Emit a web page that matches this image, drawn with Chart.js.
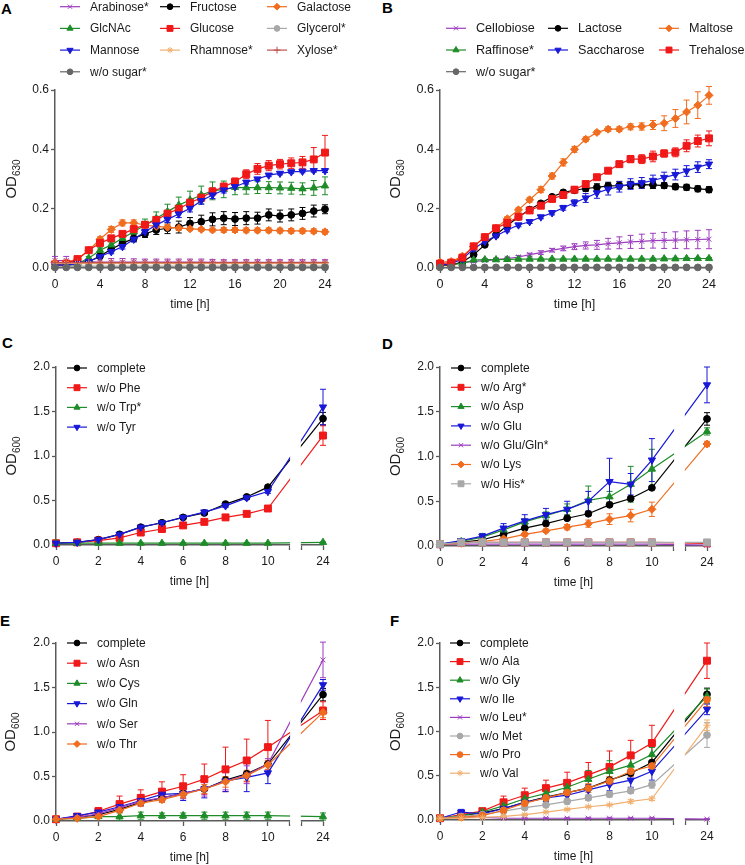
<!DOCTYPE html>
<html>
<head>
<meta charset="utf-8">
<script src="https://cdn.jsdelivr.net/npm/chart.js@4.4.1/dist/chart.umd.min.js"></script>
<style>
  body { margin: 0; background: #fff; width: 745px; height: 865px; position: relative; overflow: hidden; }
  canvas { position: absolute; }
  .tag { position: absolute; font: bold 15px "Liberation Sans", Arial, sans-serif; color: #000; }
</style>
</head>
<body>
<div class="tag" style="left:1px;top:0px">A</div>
<div class="tag" style="left:382px;top:-1px">B</div>
<div class="tag" style="left:2px;top:334px">C</div>
<div class="tag" style="left:382px;top:335px">D</div>
<div class="tag" style="left:0px;top:612px">E</div>
<div class="tag" style="left:390px;top:612px">F</div>

<canvas id="chartA" width="372" height="314" style="left:0;top:0"></canvas>
<canvas id="chartB" width="373" height="314" style="left:372px;top:0"></canvas>
<canvas id="chartC" width="372" height="282" style="left:0;top:310px"></canvas>
<canvas id="chartD" width="373" height="282" style="left:372px;top:310px"></canvas>
<canvas id="chartE" width="372" height="275" style="left:0;top:590px"></canvas>
<canvas id="chartF" width="373" height="275" style="left:372px;top:590px"></canvas>

<script>
// ---- time points ----
const hoursAB = [0,1,2,3,4,5,6,7,8,9,10,11,12,13,14,15,16,17,18,19,20,21,22,23,24];
const hoursAA = [0,1,2,3,4,5,6,7,8,9,10,24];

// ---- A: sugars (OD630), mean and SD ----
const aArabinose   = [0.025,0.025,0.022,0.021,0.020,0.020,0.020,0.020,0.020,0.020,0.020,0.020,0.020,0.020,0.019,0.019,0.019,0.019,0.019,0.019,0.019,0.019,0.019,0.019,0.019];
const aArabinoseSd = [0.014,0.014,0.012,0.012,0.012,0.012,0.012,0.011,0.010,0.010,0.010,0.010,0.010,0.010,0.010,0.009,0.009,0.009,0.009,0.009,0.009,0.009,0.009,0.009,0.009];
const aFructose    = [0.010,0.010,0.012,0.021,0.040,0.063,0.083,0.100,0.115,0.128,0.134,0.138,0.150,0.156,0.164,0.168,0.165,0.168,0.168,0.179,0.175,0.179,0.184,0.192,0.198];
const aFructoseSd  = [0.004,0.004,0.004,0.005,0.006,0.008,0.010,0.012,0.012,0.015,0.018,0.020,0.020,0.022,0.022,0.022,0.022,0.022,0.020,0.020,0.020,0.020,0.020,0.020,0.015];
const aGalactose   = [0.018,0.018,0.030,0.060,0.097,0.130,0.152,0.152,0.145,0.140,0.137,0.135,0.132,0.130,0.128,0.128,0.128,0.127,0.127,0.127,0.126,0.125,0.125,0.124,0.122];
const aGalactoseSd = [0.004,0.004,0.004,0.005,0.008,0.010,0.010,0.010,0.010,0.010,0.010,0.008,0.006,0.006,0.006,0.008,0.008,0.008,0.008,0.008,0.008,0.008,0.008,0.008,0.008];
const aGlcNAc      = [0.010,0.010,0.015,0.033,0.060,0.078,0.100,0.122,0.145,0.167,0.190,0.212,0.229,0.246,0.260,0.265,0.272,0.271,0.271,0.271,0.270,0.269,0.267,0.270,0.277];
const aGlcNAcSd    = [0.004,0.004,0.004,0.006,0.008,0.010,0.012,0.015,0.020,0.022,0.025,0.027,0.030,0.030,0.030,0.028,0.025,0.022,0.020,0.020,0.020,0.020,0.020,0.025,0.030];
const aGlucose     = [0.012,0.015,0.030,0.060,0.084,0.100,0.115,0.131,0.146,0.162,0.183,0.200,0.220,0.237,0.258,0.274,0.291,0.316,0.334,0.345,0.350,0.353,0.356,0.366,0.389];
const aGlucoseSd   = [0.005,0.005,0.005,0.005,0.005,0.006,0.007,0.008,0.010,0.012,0.012,0.012,0.012,0.012,0.012,0.012,0.012,0.015,0.018,0.017,0.016,0.018,0.020,0.040,0.058];
const aGlycerol    = [0.006,0.006,0.006,0.006,0.006,0.006,0.006,0.006,0.006,0.006,0.006,0.006,0.006,0.006,0.006,0.006,0.006,0.006,0.006,0.006,0.006,0.006,0.006,0.006,0.006];
const aGlycerolSd  = [0.003,0.003,0.003,0.003,0.003,0.003,0.003,0.003,0.003,0.003,0.003,0.003,0.003,0.003,0.003,0.003,0.003,0.003,0.003,0.003,0.003,0.003,0.003,0.003,0.003];
const aMannose     = [0.010,0.010,0.015,0.022,0.038,0.055,0.072,0.097,0.122,0.145,0.164,0.182,0.201,0.227,0.246,0.263,0.274,0.289,0.300,0.313,0.319,0.324,0.326,0.328,0.328];
const aMannoseSd   = [0.004,0.004,0.004,0.005,0.006,0.007,0.008,0.008,0.008,0.010,0.010,0.012,0.012,0.012,0.012,0.010,0.008,0.006,0.005,0.005,0.005,0.005,0.005,0.005,0.006];
const aRhamnose    = [0.016,0.016,0.015,0.015,0.015,0.015,0.015,0.015,0.015,0.015,0.015,0.015,0.015,0.015,0.015,0.015,0.015,0.015,0.015,0.015,0.015,0.015,0.015,0.015,0.015];
const aRhamnoseSd  = [0.004,0.004,0.004,0.004,0.004,0.004,0.004,0.004,0.004,0.004,0.004,0.004,0.004,0.004,0.004,0.004,0.004,0.004,0.004,0.004,0.004,0.004,0.004,0.004,0.004];
const aXylose      = [0.018,0.018,0.018,0.018,0.018,0.018,0.018,0.018,0.018,0.018,0.018,0.018,0.018,0.018,0.018,0.018,0.018,0.018,0.018,0.018,0.018,0.018,0.018,0.018,0.018];
const aXyloseSd    = [0.005,0.005,0.005,0.005,0.005,0.005,0.005,0.005,0.005,0.005,0.005,0.005,0.005,0.005,0.005,0.005,0.005,0.005,0.005,0.005,0.005,0.005,0.005,0.005,0.005];
const aNoSugar     = [0.002,0.002,0.002,0.002,0.002,0.002,0.002,0.002,0.002,0.002,0.002,0.002,0.002,0.002,0.002,0.002,0.002,0.002,0.002,0.002,0.002,0.002,0.002,0.002,0.002];
const aNoSugarSd   = [0.002,0.002,0.002,0.002,0.002,0.002,0.002,0.002,0.002,0.002,0.002,0.002,0.002,0.002,0.002,0.002,0.002,0.002,0.002,0.002,0.002,0.002,0.002,0.002,0.002];

// ---- B: di-/trisaccharides (OD630) ----
const bCellobiose    = [0.010,0.012,0.018,0.022,0.025,0.028,0.032,0.037,0.045,0.052,0.060,0.066,0.072,0.076,0.078,0.082,0.085,0.088,0.090,0.092,0.093,0.094,0.095,0.096,0.097];
const bCellobioseSd  = [0.003,0.003,0.003,0.003,0.003,0.004,0.004,0.005,0.005,0.006,0.006,0.008,0.010,0.012,0.015,0.018,0.020,0.022,0.024,0.025,0.027,0.028,0.030,0.031,0.032];
const bLactose       = [0.010,0.010,0.020,0.045,0.078,0.112,0.143,0.172,0.197,0.218,0.240,0.255,0.262,0.268,0.272,0.277,0.278,0.280,0.281,0.280,0.278,0.274,0.272,0.267,0.264];
const bLactoseSd     = [0.003,0.003,0.004,0.005,0.006,0.006,0.006,0.006,0.006,0.006,0.006,0.007,0.008,0.010,0.012,0.012,0.012,0.012,0.012,0.012,0.010,0.010,0.010,0.010,0.010];
const bMaltose       = [0.020,0.022,0.040,0.073,0.104,0.134,0.166,0.196,0.230,0.264,0.310,0.356,0.400,0.434,0.457,0.468,0.468,0.476,0.477,0.482,0.488,0.504,0.526,0.549,0.582];
const bMaltoseSd     = [0.004,0.004,0.005,0.006,0.006,0.006,0.007,0.007,0.008,0.010,0.010,0.012,0.010,0.008,0.006,0.008,0.008,0.010,0.012,0.015,0.025,0.030,0.040,0.045,0.030];
const bRaffinose     = [0.010,0.012,0.015,0.027,0.028,0.028,0.029,0.030,0.030,0.030,0.030,0.030,0.030,0.030,0.030,0.030,0.030,0.030,0.030,0.030,0.031,0.031,0.032,0.032,0.032];
const bRaffinoseSd   = [0.003,0.003,0.003,0.003,0.003,0.003,0.003,0.003,0.003,0.003,0.003,0.003,0.003,0.003,0.003,0.003,0.003,0.003,0.003,0.003,0.003,0.003,0.003,0.003,0.003];
const bSaccharose    = [0.010,0.015,0.030,0.065,0.089,0.108,0.128,0.145,0.156,0.172,0.186,0.203,0.220,0.236,0.253,0.266,0.274,0.283,0.287,0.295,0.305,0.315,0.327,0.340,0.350];
const bSaccharoseSd  = [0.003,0.003,0.004,0.005,0.006,0.006,0.006,0.006,0.006,0.006,0.007,0.008,0.010,0.015,0.018,0.020,0.018,0.018,0.018,0.018,0.018,0.018,0.018,0.018,0.015];
const bTrehalose     = [0.015,0.018,0.035,0.073,0.104,0.134,0.152,0.173,0.194,0.210,0.233,0.246,0.264,0.283,0.306,0.328,0.350,0.367,0.367,0.376,0.386,0.390,0.412,0.428,0.437];
const bTrehaloseSd   = [0.004,0.004,0.004,0.005,0.006,0.006,0.006,0.007,0.008,0.008,0.010,0.010,0.008,0.008,0.008,0.008,0.010,0.012,0.015,0.018,0.012,0.015,0.020,0.020,0.025];
const bNoSugar       = [0.002,0.002,0.002,0.002,0.002,0.002,0.002,0.002,0.002,0.002,0.002,0.002,0.002,0.002,0.002,0.002,0.002,0.002,0.002,0.002,0.002,0.002,0.002,0.002,0.002];
const bNoSugarSd     = [0.001,0.001,0.001,0.001,0.001,0.001,0.001,0.001,0.001,0.001,0.001,0.001,0.001,0.001,0.001,0.001,0.001,0.001,0.001,0.001,0.001,0.001,0.001,0.001,0.001];

// ---- C: aromatic amino acids (OD600) ----
const cComplete   = [0.02,0.03,0.06,0.12,0.20,0.25,0.31,0.36,0.46,0.54,0.65,1.42];
const cCompleteSd = [0.005,0.005,0.01,0.01,0.015,0.015,0.015,0.02,0.02,0.02,0.02,0.07];
const cPhe        = [0.02,0.03,0.05,0.08,0.14,0.18,0.22,0.26,0.31,0.35,0.41,1.23];
const cPheSd      = [0.005,0.005,0.005,0.01,0.01,0.01,0.01,0.01,0.015,0.015,0.02,0.11];
const cTrp        = [0.02,0.02,0.02,0.02,0.02,0.02,0.02,0.02,0.02,0.02,0.02,0.03];
const cTrpSd      = [0.005,0.005,0.005,0.005,0.005,0.005,0.005,0.005,0.005,0.005,0.005,0.005];
const cTyr        = [0.02,0.03,0.06,0.12,0.20,0.25,0.31,0.37,0.44,0.53,0.60,1.55];
const cTyrSd      = [0.005,0.005,0.01,0.01,0.015,0.015,0.015,0.02,0.02,0.02,0.02,0.20];

// ---- D ----
const dComplete   = [0.02,0.04,0.07,0.13,0.20,0.25,0.31,0.36,0.46,0.53,0.65,1.42];
const dCompleteSd = [0.005,0.005,0.01,0.01,0.015,0.015,0.015,0.02,0.02,0.02,0.02,0.07];
const dArg        = [0.02,0.04,0.04,0.04,0.04,0.04,0.04,0.04,0.04,0.04,0.04,0.03];
const dArgSd      = [0.005,0.005,0.005,0.005,0.005,0.005,0.005,0.005,0.005,0.005,0.005,0.005];
const dAsp        = [0.02,0.05,0.10,0.18,0.27,0.34,0.41,0.51,0.55,0.69,0.86,1.28];
const dAspSd      = [0.005,0.01,0.02,0.03,0.03,0.04,0.06,0.16,0.06,0.20,0.22,0.04];
const dGlu        = [0.02,0.06,0.11,0.20,0.28,0.35,0.41,0.50,0.72,0.69,0.96,1.80];
const dGluSd      = [0.005,0.01,0.03,0.05,0.07,0.07,0.09,0.11,0.26,0.12,0.24,0.20];
const dGluGln     = [0.02,0.02,0.02,0.02,0.02,0.02,0.02,0.02,0.02,0.02,0.02,0.01];
const dGluGlnSd   = [0.005,0.005,0.005,0.005,0.005,0.005,0.005,0.005,0.005,0.005,0.005,0.005];
const dLys        = [0.02,0.03,0.05,0.08,0.13,0.17,0.21,0.25,0.30,0.34,0.41,1.14];
const dLysSd      = [0.005,0.005,0.01,0.02,0.02,0.02,0.03,0.04,0.06,0.07,0.08,0.03];
const dHis        = [0.02,0.04,0.04,0.04,0.04,0.04,0.04,0.04,0.04,0.04,0.04,0.04];
const dHisSd      = [0.005,0.005,0.005,0.005,0.005,0.005,0.005,0.005,0.005,0.005,0.005,0.005];

// ---- E ----
const eComplete   = [0.02,0.04,0.07,0.13,0.21,0.26,0.31,0.36,0.46,0.53,0.64,1.42];
const eCompleteSd = [0.005,0.005,0.01,0.01,0.015,0.015,0.015,0.02,0.02,0.02,0.02,0.07];
const eAsn        = [0.02,0.05,0.11,0.19,0.26,0.33,0.39,0.47,0.58,0.68,0.83,1.24];
const eAsnSd      = [0.005,0.02,0.04,0.09,0.09,0.11,0.13,0.17,0.25,0.24,0.30,0.10];
const eCys        = [0.02,0.03,0.05,0.05,0.06,0.06,0.06,0.06,0.06,0.06,0.06,0.05];
const eCysSd      = [0.005,0.01,0.02,0.04,0.04,0.03,0.03,0.04,0.04,0.04,0.04,0.04];
const eGln        = [0.02,0.06,0.10,0.16,0.23,0.30,0.31,0.36,0.45,0.49,0.54,1.53];
const eGlnSd      = [0.005,0.01,0.03,0.04,0.06,0.06,0.08,0.10,0.12,0.16,0.12,0.06];
const eSer        = [0.02,0.04,0.08,0.15,0.22,0.26,0.31,0.36,0.45,0.52,0.64,1.81];
const eSerSd      = [0.005,0.01,0.02,0.03,0.04,0.05,0.06,0.08,0.10,0.10,0.06,0.20];
const eThr        = [0.02,0.03,0.05,0.12,0.20,0.24,0.30,0.36,0.44,0.51,0.63,1.22];
const eThrSd      = [0.005,0.005,0.01,0.02,0.03,0.03,0.04,0.05,0.06,0.06,0.05,0.06];

// ---- F ----
const fComplete   = [0.02,0.05,0.08,0.13,0.20,0.26,0.31,0.36,0.45,0.53,0.65,1.42];
const fCompleteSd = [0.005,0.005,0.01,0.01,0.015,0.015,0.015,0.02,0.02,0.02,0.02,0.07];
const fAla        = [0.02,0.06,0.10,0.20,0.28,0.36,0.42,0.51,0.60,0.73,0.87,1.80];
const fAlaSd      = [0.005,0.02,0.03,0.07,0.08,0.09,0.12,0.14,0.18,0.17,0.20,0.20];
const fGly        = [0.02,0.05,0.09,0.16,0.24,0.30,0.37,0.46,0.55,0.62,0.74,1.40];
const fGlySd      = [0.005,0.01,0.02,0.04,0.05,0.06,0.08,0.10,0.12,0.10,0.08,0.08];
const fIle        = [0.02,0.09,0.07,0.13,0.20,0.25,0.28,0.34,0.40,0.45,0.55,1.25];
const fIleSd      = [0.005,0.03,0.02,0.03,0.03,0.04,0.05,0.06,0.07,0.08,0.10,0.06];
const fLeu        = [0.02,0.03,0.03,0.02,0.02,0.02,0.02,0.02,0.02,0.02,0.02,0.01];
const fLeuSd      = [0.005,0.005,0.005,0.005,0.005,0.005,0.005,0.005,0.005,0.005,0.005,0.005];
const fMet        = [0.02,0.04,0.06,0.10,0.14,0.17,0.21,0.25,0.29,0.33,0.40,0.96];
const fMetSd      = [0.005,0.005,0.01,0.01,0.02,0.02,0.03,0.03,0.03,0.03,0.04,0.14];
const fPro        = [0.02,0.03,0.05,0.11,0.19,0.25,0.31,0.36,0.44,0.55,0.61,1.36];
const fProSd      = [0.005,0.005,0.01,0.02,0.03,0.03,0.04,0.05,0.05,0.06,0.06,0.08];
const fVal        = [0.02,0.02,0.03,0.04,0.06,0.09,0.12,0.15,0.17,0.21,0.24,1.07];
const fValSd      = [0.005,0.005,0.005,0.01,0.01,0.01,0.01,0.01,0.01,0.02,0.02,0.06];

// ---- colours / markers ----
const BLACK = '#000000', RED = '#f01818', GREEN = '#1e8c28', BLUE = '#1818d8', PURPLE = '#9c3cbe',
      ORANGE = '#f06c1e', LGRAY = '#a8a8a8', TAN = '#f0b070', BRICK = '#c0504d', DGRAY = '#666666';
const AXIS = '#5a5a5a', TXT = '#1a1a1a';
const FONT = '"Liberation Sans", Arial, sans-serif';

const CIRCLE = { shape: 'circle', r: 3.4 }, SQUARE = { shape: 'rect', r: 4.9 },
      UP = { shape: 'triangle', r: 4.2 }, DOWN = { shape: 'triangle', r: 4.2, rot: 180 },
      XMARK = { shape: 'crossRot', r: 3.5 }, DIAMOND = { shape: 'rectRot', r: 4 },
      STAR = { shape: 'star', r: 3.6 }, PLUS = { shape: 'cross', r: 4 };

// broken x axis (C-F): 0..11 kept, 24 h placed just past the gap
const BREAK_FROM = 11, BREAK_TO = 11.6, POS_24 = 12.6;
const brokenX = t => (t > BREAK_FROM ? t - 24 + POS_24 : t);
const plainX = t => t;

function series(label, color, mk, values, errors, hours, xMap) {
  return {
    label: label,
    data: values.map((v, i) => ({ x: xMap(hours[i]), y: v })),
    errors: errors,
    borderColor: color, backgroundColor: color,
    pointBackgroundColor: color, pointBorderColor: color,
    pointStyle: mk.shape, pointRadius: mk.r, pointRotation: mk.rot || 0,
    pointBorderWidth: 1, borderWidth: 1.2, tension: 0, clip: false
  };
}

// later series are painted on top, like the original figure
function stack(list) {
  list.forEach((ds, i) => { ds.order = -i; });
  return list;
}

// error bars drawn through the chart scales
const errorBars = {
  id: 'errorBars',
  beforeDatasetsDraw(chart) {
    const { ctx, scales: { x, y } } = chart;
    chart.data.datasets.forEach(ds => {
      if (!ds.errors) return;
      ctx.save();
      ctx.strokeStyle = ds.borderColor;
      ctx.lineWidth = 1;
      ds.data.forEach((p, j) => {
        const e = ds.errors[j];
        if (!e) return;
        const px = x.getPixelForValue(p.x);
        const t = y.getPixelForValue(p.y + e), b = y.getPixelForValue(p.y - e);
        ctx.beginPath();
        ctx.moveTo(px, t); ctx.lineTo(px, b);
        ctx.moveTo(px - 3, t); ctx.lineTo(px + 3, t);
        ctx.moveTo(px - 3, b); ctx.lineTo(px + 3, b);
        ctx.stroke();
      });
      ctx.restore();
    });
  }
};

// white gap over the axis break
const brokenAxis = {
  id: 'brokenAxis',
  afterDatasetsDraw(chart) {
    const { ctx, chartArea, scales: { x } } = chart;
    const x1 = x.getPixelForValue(BREAK_FROM) + 1, x2 = x.getPixelForValue(BREAK_TO) - 1;
    ctx.save();
    ctx.fillStyle = '#ffffff';
    ctx.fillRect(x1, chartArea.top, x2 - x1, chartArea.bottom - chartArea.top + 3);
    ctx.restore();
  }
};

// Prism-like legend, row-major in columns
const legendBox = {
  id: 'legendBox',
  afterDraw(chart, args, opts) {
    const ctx = chart.ctx;
    ctx.save();
    ctx.font = opts.size + 'px ' + FONT;
    ctx.textBaseline = 'middle';
    ctx.textAlign = 'left';
    chart.data.datasets.forEach((ds, i) => {
      const col = i % opts.cols.length, row = Math.floor(i / opts.cols.length);
      const tx = opts.cols[col], ty = opts.top + row * opts.gap;
      ctx.strokeStyle = ds.borderColor;
      ctx.fillStyle = ds.borderColor;
      ctx.lineWidth = 1.2;
      ctx.beginPath(); ctx.moveTo(tx - 30, ty); ctx.lineTo(tx - 10, ty); ctx.stroke();
      ctx.lineWidth = 1;
      Chart.helpers.drawPoint(ctx, { pointStyle: ds.pointStyle, radius: ds.pointRadius * 0.85,
        rotation: ds.pointRotation, borderWidth: 1 }, tx - 20, ty);
      ctx.fillStyle = TXT;
      ctx.fillText(ds.label, tx, ty + 0.5);
    });
    ctx.restore();
  }
};

// axis titles (OD with subscript, time [h])
const axisTitles = {
  id: 'axisTitles',
  afterDraw(chart, args, opts) {
    const { ctx, chartArea: ca } = chart;
    ctx.save();
    ctx.fillStyle = TXT;
    ctx.textBaseline = 'alphabetic';
    ctx.font = opts.size + 'px ' + FONT;
    ctx.textAlign = 'center';
    ctx.fillText('time [h]', (ca.left + ca.right) / 2, ca.bottom + 40);
    ctx.translate(opts.yX, (ca.top + ca.bottom) / 2);
    ctx.rotate(-Math.PI / 2);
    ctx.textAlign = 'left';
    ctx.font = '15px ' + FONT;
    const w1 = ctx.measureText('OD').width;
    ctx.font = '10px ' + FONT;
    const w2 = ctx.measureText(opts.sub).width;
    const start = -(w1 + w2) / 2;
    ctx.font = '15px ' + FONT;
    ctx.fillText('OD', start, 0);
    ctx.font = '10px ' + FONT;
    ctx.fillText(opts.sub, start + w1, 4);
    ctx.restore();
  }
};

function makeChart(id, cfg) {
  const size = cfg.fontSize || 12;
  const axisGrid = { display: true, drawOnChartArea: false, drawTicks: true, color: AXIS, tickColor: AXIS, tickWidth: 1.3 };
  return new Chart(document.getElementById(id), {
    type: 'line',
    data: { datasets: stack(cfg.datasets) },
    options: {
      responsive: false, animation: false, events: [],
      layout: { padding: cfg.pad },
      scales: {
        x: {
          type: 'linear', min: 0, max: cfg.xMax,
          afterBuildTicks: s => { s.ticks = cfg.xTicks.map(v => ({ value: v })); },
          afterFit: s => { s.height = 40; s.paddingLeft = 0; s.paddingRight = 0; },
          grid: Object.assign({ tickLength: 5 }, axisGrid),
          border: { display: true, color: AXIS, width: 1.5 },
          ticks: { autoSkip: false, maxRotation: 0, padding: 4, color: TXT, font: { family: FONT, size: size },
                   callback: cfg.xLabel }
        },
        y: {
          type: 'linear', min: 0, max: cfg.yMax,
          afterBuildTicks: s => { s.ticks = cfg.yTicks.map(v => ({ value: v })); },
          afterFit: s => { s.width = 40; s.paddingTop = 0; s.paddingBottom = 0; },
          grid: Object.assign({ tickLength: 4 }, axisGrid),
          border: { display: true, color: AXIS, width: 1.5 },
          ticks: { padding: 2, color: TXT, font: { family: FONT, size: size }, callback: v => v.toFixed(1) }
        }
      },
      plugins: {
        legend: { display: false }, tooltip: { enabled: false },
        legendBox: Object.assign({ size: size }, cfg.legend),
        axisTitles: { sub: cfg.sub, yX: cfg.yX, size: size }
      }
    },
    plugins: cfg.broken ? [errorBars, brokenAxis, legendBox, axisTitles] : [errorBars, legendBox, axisTitles]
  });
}

const sugarX = { xMax: 24, xTicks: [0,4,8,12,16,20,24], xLabel: v => v,
                 yMax: 0.6, yTicks: [0,0.2,0.4,0.6], sub: '630' };
const aminoX = { xMax: POS_24, xTicks: [0,2,4,6,8,10,BREAK_FROM,BREAK_TO,POS_24],
                 xLabel: v => (v === POS_24 ? '24' : (v === BREAK_FROM || v === BREAK_TO ? '' : v)),
                 yMax: 2, yTicks: [0,0.5,1,1.5,2], sub: '600', broken: true };

const sA = (l, c, m, v, e) => series(l, c, m, v, e, hoursAB, plainX);
const sC = (l, c, m, v, e) => series(l, c, m, v, e, hoursAA, brokenX);

makeChart('chartA', Object.assign({}, sugarX, {
  pad: { left: 15, right: 47, top: 90, bottom: 6 }, yX: 16,
  legend: { cols: [90, 190, 297], top: 6.7, gap: 21.7 },
  datasets: [
    sA('Arabinose*', PURPLE, XMARK, aArabinose, aArabinoseSd),
    sA('Fructose', BLACK, CIRCLE, aFructose, aFructoseSd),
    sA('Galactose', ORANGE, DIAMOND, aGalactose, aGalactoseSd),
    sA('GlcNAc', GREEN, UP, aGlcNAc, aGlcNAcSd),
    sA('Glucose', RED, SQUARE, aGlucose, aGlucoseSd),
    sA('Glycerol*', LGRAY, CIRCLE, aGlycerol, aGlycerolSd),
    sA('Mannose', BLUE, DOWN, aMannose, aMannoseSd),
    sA('Rhamnose*', TAN, STAR, aRhamnose, aRhamnoseSd),
    sA('Xylose*', BRICK, PLUS, aXylose, aXyloseSd),
    sA('w/o sugar*', DGRAY, CIRCLE, aNoSugar, aNoSugarSd)
  ]
}));

makeChart('chartB', Object.assign({}, sugarX, {
  pad: { left: 28, right: 36, top: 90, bottom: 6 }, yX: 28, fontSize: 12.6,
  legend: { cols: [104, 206, 317], top: 28.3, gap: 21.7 },
  datasets: [
    sA('Cellobiose', PURPLE, XMARK, bCellobiose, bCellobioseSd),
    sA('Lactose', BLACK, CIRCLE, bLactose, bLactoseSd),
    sA('Maltose', ORANGE, DIAMOND, bMaltose, bMaltoseSd),
    sA('Raffinose*', GREEN, UP, bRaffinose, bRaffinoseSd),
    sA('Saccharose', BLUE, DOWN, bSaccharose, bSaccharoseSd),
    sA('Trehalose', RED, SQUARE, bTrehalose, bTrehaloseSd),
    sA('w/o sugar*', DGRAY, CIRCLE, bNoSugar, bNoSugarSd)
  ]
}));

makeChart('chartC', Object.assign({}, aminoX, {
  pad: { left: 16, right: 49, top: 57, bottom: 7 }, yX: 16,
  legend: { cols: [97], top: 58, gap: 19.7 },
  datasets: [
    sC('complete', BLACK, CIRCLE, cComplete, cCompleteSd),
    sC('w/o Phe', RED, SQUARE, cPhe, cPheSd),
    sC('w/o Trp*', GREEN, UP, cTrp, cTrpSd),
    sC('w/o Tyr', BLUE, DOWN, cTyr, cTyrSd)
  ]
}));

makeChart('chartD', Object.assign({}, aminoX, {
  pad: { left: 28, right: 38, top: 57, bottom: 6 }, yX: 28,
  legend: { cols: [109], top: 58, gap: 19.3 },
  datasets: [
    sC('complete', BLACK, CIRCLE, dComplete, dCompleteSd),
    sC('w/o Arg*', RED, SQUARE, dArg, dArgSd),
    sC('w/o Asp', GREEN, UP, dAsp, dAspSd),
    sC('w/o Glu', BLUE, DOWN, dGlu, dGluSd),
    sC('w/o Glu/Gln*', PURPLE, XMARK, dGluGln, dGluGlnSd),
    sC('w/o Lys', ORANGE, DIAMOND, dLys, dLysSd),
    sC('w/o His*', LGRAY, SQUARE, dHis, dHisSd)
  ]
}));

makeChart('chartE', Object.assign({}, aminoX, {
  pad: { left: 16, right: 49, top: 53, bottom: 4 }, yX: 15,
  legend: { cols: [97], top: 53, gap: 20.2 },
  datasets: [
    sC('complete', BLACK, CIRCLE, eComplete, eCompleteSd),
    sC('w/o Asn', RED, SQUARE, eAsn, eAsnSd),
    sC('w/o Cys', GREEN, UP, eCys, eCysSd),
    sC('w/o Gln', BLUE, DOWN, eGln, eGlnSd),
    sC('w/o Ser', PURPLE, XMARK, eSer, eSerSd),
    sC('w/o Thr', ORANGE, DIAMOND, eThr, eThrSd)
  ]
}));

makeChart('chartF', Object.assign({}, aminoX, {
  pad: { left: 28, right: 38, top: 53, bottom: 5 }, yX: 28,
  legend: { cols: [108], top: 53, gap: 18.6 },
  datasets: [
    sC('complete', BLACK, CIRCLE, fComplete, fCompleteSd),
    sC('w/o Ala', RED, SQUARE, fAla, fAlaSd),
    sC('w/o Gly', GREEN, UP, fGly, fGlySd),
    sC('w/o Ile', BLUE, DOWN, fIle, fIleSd),
    sC('w/o Leu*', PURPLE, XMARK, fLeu, fLeuSd),
    sC('w/o Met', LGRAY, CIRCLE, fMet, fMetSd),
    sC('w/o Pro', ORANGE, CIRCLE, fPro, fProSd),
    sC('w/o Val', TAN, STAR, fVal, fValSd)
  ]
}));
</script>
</body>
</html>
